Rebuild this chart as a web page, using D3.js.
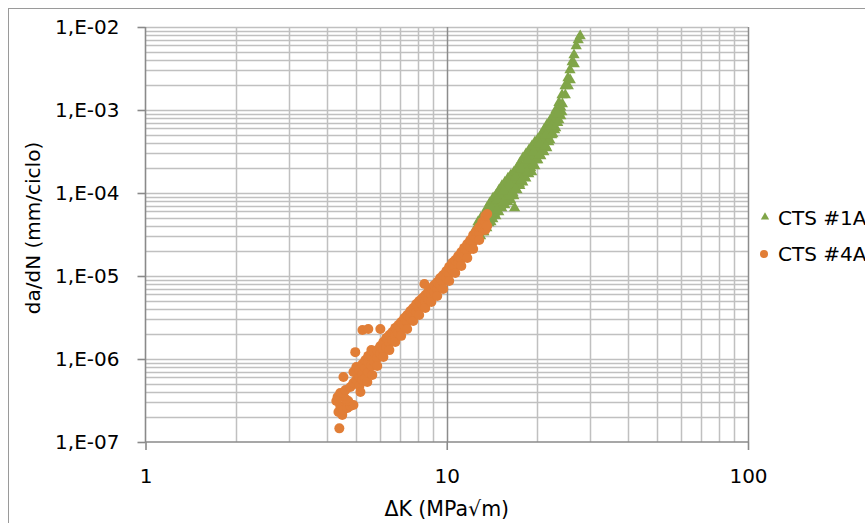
<!DOCTYPE html>
<html><head><meta charset="utf-8">
<script src="https://cdn.jsdelivr.net/npm/d3@7"></script>
<style>html,body{margin:0;padding:0;background:#fff;}svg{display:block;}text{font-family:"DejaVu Sans",sans-serif;fill:#000;}</style>
</head><body>
<svg id="chart" width="865" height="523"></svg>
<script>
// ---- data ----
const seriesNames = ["CTS #1A", "CTS #4A"];
const xTickValues = [1, 10, 100];
const xTickLabels = ["1", "10", "100"];
const yTickValues = [1e-7, 1e-6, 1e-5, 1e-4, 1e-3, 1e-2];
const yTickLabels = ["1,E-07", "1,E-06", "1,E-05", "1,E-04", "1,E-03", "1,E-02"];
const xTitle = "ΔK (MPa√m)";
const yTitle = "da/dN (mm/ciclo)";

// CTS #1A : [ΔK, da/dN]
const cts1A = [
[12.15,3.03e-5],[12.40,3.58e-5],[12.48,2.72e-5],[12.70,4.47e-5],[12.76,3.29e-5],[12.98,5.00e-5],[13.05,3.79e-5],[12.95,3.03e-5],
[13.30,5.58e-5],[13.36,4.24e-5],[13.28,3.39e-5],[13.60,6.60e-5],[13.68,5.00e-5],[13.58,3.79e-5],[13.90,7.58e-5],[13.98,5.74e-5],
[14.02,4.47e-5],[14.25,8.71e-5],[14.31,6.60e-5],[14.22,4.86e-5],[14.58,9.46e-5],[14.64,7.17e-5],[14.55,5.28e-5],[14.92,1.09e-4],
[14.98,8.24e-5],[14.88,5.90e-5],[15.25,1.22e-4],[15.32,9.20e-5],[15.22,6.60e-5],[15.60,1.35e-4],[15.66,1.00e-4],[15.58,7.17e-5],
[15.97,1.51e-4],[16.05,1.09e-4],[15.95,7.80e-5],[16.33,1.65e-4],[16.40,1.22e-4],[16.30,8.24e-5],[16.72,1.79e-4],[16.78,1.35e-4],
[16.70,9.20e-5],[16.80,6.60e-5],[17.11,2.00e-4],[17.18,1.51e-4],[17.10,1.09e-4],[17.50,2.30e-4],[17.56,1.65e-4],[17.48,1.22e-4],
[17.90,2.64e-4],[17.98,1.89e-4],[17.88,1.35e-4],[18.32,2.95e-4],[18.40,2.12e-4],[18.30,1.51e-4],[18.75,3.30e-4],[18.82,2.37e-4],
[18.72,1.70e-4],[19.18,3.69e-4],[19.25,2.64e-4],[19.15,1.79e-4],[19.62,4.12e-4],[19.70,3.03e-4],[19.60,2.12e-4],[20.08,4.47e-4],
[20.15,3.39e-4],[20.05,2.50e-4],[20.55,5.00e-4],[20.62,3.79e-4],[20.52,2.79e-4],[21.02,5.74e-4],[21.10,4.35e-4],[21.00,3.12e-4],
[21.50,6.60e-4],[21.58,4.86e-4],[21.48,3.49e-4],[22.00,7.37e-4],[22.08,5.74e-4],[21.98,4.35e-4],[22.52,8.47e-4],[22.60,6.60e-4],
[22.50,5.14e-4],[23.04,1.00e-3],[23.10,8.01e-4],[23.00,6.07e-4],[23.58,1.22e-3],[23.66,9.46e-4],[23.55,7.58e-4],[24.14,1.52e-3],
[24.20,1.18e-3],[24.10,9.46e-4],[24.70,1.95e-3],[24.75,1.52e-3],[25.26,2.43e-3],[25.32,1.95e-3],[25.65,3.03e-3],[25.70,2.30e-3],
[26.08,3.78e-3],[26.45,4.60e-3],[26.50,3.58e-3],[26.90,5.90e-3],[27.31,6.97e-3],[27.73,7.79e-3],
[13.80,5.74e-5],[13.80,4.35e-5],[14.40,7.58e-5],[14.40,5.74e-5],[15.10,9.46e-5],[15.10,6.98e-5],[15.80,1.15e-4],[15.80,8.47e-5],
[16.60,1.43e-4],[16.60,1.00e-4],[17.40,1.70e-4],[17.40,1.29e-4],[18.10,2.24e-4],[18.10,1.60e-4],[19.00,2.79e-4],[19.00,2.00e-4],
[19.90,3.59e-4],[19.90,2.50e-4],[20.80,4.35e-4],[20.80,3.30e-4],[21.80,5.74e-4],[21.80,4.12e-4],[22.80,7.58e-4],[22.80,5.74e-4],
[23.90,1.08e-3],[23.90,8.47e-4],[13.20,4.35e-5],[13.20,3.39e-5],[12.60,3.12e-5],
[14.10,6.60e-5],[14.10,5.00e-5],[14.70,8.24e-5],[14.70,6.24e-5],[15.45,1.06e-4],[15.45,7.80e-5],[16.20,1.29e-4],[16.20,9.20e-5],
[16.95,1.56e-4],[16.95,1.12e-4],[17.70,1.94e-4],[17.70,1.43e-4],[18.55,2.50e-4],[18.55,1.79e-4],[19.45,3.12e-4],[19.45,2.18e-4],
[20.35,3.90e-4],[20.35,2.87e-4],[21.30,5.00e-4],[21.30,3.69e-4],[22.30,6.42e-4],[22.30,5.00e-4],[23.35,8.95e-4],[23.35,7.00e-4]
];

// CTS #4A : [ΔK, da/dN]
const cts4A = [
[4.40,1.46e-7],[4.34,3.48e-7],[4.37,2.30e-7],[4.43,2.71e-7],[4.50,2.11e-7],[4.54,2.43e-7],[4.68,2.57e-7],[4.79,2.71e-7],
[4.90,2.79e-7],[4.71,3.12e-7],[4.61,3.30e-7],[4.54,3.58e-7],[4.43,3.89e-7],[4.61,4.23e-7],[4.79,4.60e-7],[4.54,6.07e-7],
[4.30,3.12e-7],[4.90,5.14e-7],[4.90,6.97e-7],[5.01,5.58e-7],[5.01,8.01e-7],[5.13,6.07e-7],[5.13,7.37e-7],[5.13,4.73e-7],
[5.25,6.60e-7],[5.25,8.71e-7],[5.25,5.58e-7],[5.37,5.90e-7],[5.37,7.79e-7],[5.37,9.73e-7],[5.49,6.97e-7],[5.49,9.20e-7],
[5.49,1.09e-6],[5.62,8.24e-7],[5.62,1.09e-6],[5.62,1.28e-6],[5.75,9.20e-7],[5.75,1.18e-6],[5.88,1.03e-6],[5.88,1.28e-6],
[5.88,8.24e-7],[6.02,1.15e-6],[6.02,1.43e-6],[6.16,1.28e-6],[6.16,1.60e-6],[6.16,1.06e-6],[6.30,1.39e-6],[6.30,1.79e-6],
[6.45,1.55e-6],[6.45,1.95e-6],[6.45,1.28e-6],[6.60,1.69e-6],[6.60,2.12e-6],[6.75,1.90e-6],[6.75,2.37e-6],[6.75,1.60e-6],
[6.91,2.06e-6],[6.91,2.57e-6],[7.06,2.30e-6],[7.06,2.79e-6],[7.06,1.90e-6],[7.23,2.50e-6],[7.23,3.12e-6],[7.39,2.79e-6],
[7.39,3.39e-6],[7.39,2.30e-6],[7.57,3.12e-6],[7.57,3.78e-6],[7.74,3.39e-6],[7.74,4.12e-6],[7.74,2.87e-6],[7.92,3.68e-6],
[7.92,4.60e-6],[8.10,4.12e-6],[8.10,5.00e-6],[8.10,3.39e-6],[8.30,4.47e-6],[8.30,5.43e-6],[8.49,4.86e-6],[8.49,5.90e-6],
[8.49,4.12e-6],[8.68,5.28e-6],[8.68,6.41e-6],[8.89,5.90e-6],[8.89,7.17e-6],[8.89,4.86e-6],[9.09,6.41e-6],[9.09,7.79e-6],
[9.30,6.97e-6],[9.30,8.47e-6],[9.30,5.74e-6],[9.51,7.79e-6],[9.51,9.46e-6],[9.73,8.47e-6],[9.73,1.03e-5],[9.73,6.97e-6],
[9.97,9.46e-6],[9.97,1.15e-5],[10.19,1.06e-5],[10.19,1.29e-5],[10.19,8.71e-6],[10.43,1.18e-5],[10.43,1.44e-5],[10.67,1.29e-5],
[10.67,1.56e-5],[10.67,1.09e-5],[10.92,1.44e-5],[10.92,1.74e-5],[11.18,1.60e-5],[11.18,1.95e-5],[11.18,1.32e-5],[11.43,1.79e-5],
[11.43,2.18e-5],[11.70,2.00e-5],[11.70,2.43e-5],[11.70,1.65e-5],[11.97,2.23e-5],[11.97,2.72e-5],[12.24,2.57e-5],[12.24,3.12e-5],
[12.24,2.12e-5],[12.53,2.88e-5],[12.53,3.48e-5],[12.82,3.30e-5],[12.82,3.90e-5],[12.82,2.72e-5],[13.12,3.79e-5],[13.12,4.47e-5],
[13.42,4.47e-5],[13.42,5.28e-5],[13.42,3.58e-5],[13.62,5.58e-5],[13.62,4.01e-5],
[5.17,4.00e-7],[5.45,5.28e-7],[5.66,6.42e-7],
[4.97,1.21e-6],[5.25,2.24e-6],[5.49,2.30e-6],[6.02,2.30e-6],[8.43,8.01e-6]
];

const colorGreen = "#80A548";
const colorOrange = "#E17E37";

// ---- chart ----
const svg = d3.select("#chart");
const plot = {left: 145.5, right: 748, top: 27, bottom: 442};

svg.append("rect").attr("x", 8.5).attr("y", 8.5).attr("width", 870).attr("height", 530)
  .attr("fill", "#fff").attr("stroke", "#9a9a9a").attr("stroke-width", 1);

const x = d3.scaleLog().domain([1, 100]).range([plot.left, plot.right]);
const y = d3.scaleLog().domain([1e-7, 1e-2]).range([plot.bottom, plot.top]);

// grid
const gGrid = svg.append("g");
const yGrid = y.ticks().filter(v => Math.abs(v / 1e-7 - 1) > 1e-6);
gGrid.selectAll("line.hy").data(yGrid).join("line")
  .attr("x1", plot.left).attr("x2", plot.right)
  .attr("y1", d => Math.round(y(d)) + 0.5).attr("y2", d => Math.round(y(d)) + 0.5)
  .attr("stroke", "#c0c0c0").attr("stroke-width", 1.5);
const xGrid = x.ticks().filter(v => !xTickValues.includes(v));
gGrid.selectAll("line.vx").data(xGrid).join("line")
  .attr("x1", d => Math.round(x(d)) + 0.5).attr("x2", d => Math.round(x(d)) + 0.5)
  .attr("y1", plot.top).attr("y2", plot.bottom)
  .attr("stroke", "#c0c0c0").attr("stroke-width", 1.5);
gGrid.selectAll("line.vxM").data(xTickValues.slice(1)).join("line")
  .attr("x1", d => Math.round(x(d)) + 0.5).attr("x2", d => Math.round(x(d)) + 0.5)
  .attr("y1", plot.top).attr("y2", plot.bottom)
  .attr("stroke", "#8c8c8c").attr("stroke-width", 1.5);

// axes
const yAxis = d3.axisLeft(y).tickValues(yTickValues).tickSize(8).tickPadding(18)
  .tickFormat((d, i) => yTickLabels[i]);
const gy = svg.append("g").attr("transform", `translate(${plot.left},0)`).call(yAxis);
const xAxis = d3.axisBottom(x).tickValues(xTickValues).tickSize(8).tickPadding(19)
  .tickFormat((d, i) => xTickLabels[i]);
const gx = svg.append("g").attr("transform", `translate(0,${plot.bottom})`).call(xAxis);
[gx, gy].forEach(g => {
  g.select(".domain").attr("stroke", "#8a8a8a").attr("stroke-width", 1.6);
  g.selectAll(".tick line").attr("stroke", "#8a8a8a").attr("stroke-width", 1.6);
  g.selectAll(".tick text").attr("font-family", "DejaVu Sans").attr("font-size", 20).attr("fill", "#000");
});
gx.select(".domain").attr("d", `M${plot.left},0H${plot.right}`);
gy.select(".domain").attr("d", `M0,${plot.bottom}V${plot.top}`);

// series
const tri = d3.symbol().type(d3.symbolTriangle).size(55);
svg.append("g").selectAll("path").data(cts1A).join("path")
  .attr("d", tri)
  .attr("transform", d => `translate(${x(d[0])},${y(d[1])})`)
  .attr("fill", colorGreen);
svg.append("g").selectAll("circle").data(cts4A).join("circle")
  .attr("cx", d => x(d[0])).attr("cy", d => y(d[1])).attr("r", 5)
  .attr("fill", colorOrange);

// titles
svg.append("text").attr("x", (plot.left + plot.right) / 2).attr("y", 516)
  .attr("text-anchor", "middle").attr("font-size", 20.5).text(xTitle);
svg.append("text").attr("transform", "translate(40,228) rotate(-90)")
  .attr("text-anchor", "middle").attr("font-size", 20).text(yTitle);

// legend
const lg = svg.append("g");
lg.append("path").attr("d", d3.symbol().type(d3.symbolTriangle).size(30))
  .attr("transform", "translate(765,217)").attr("fill", colorGreen);
lg.append("circle").attr("cx", 764).attr("cy", 254).attr("r", 4).attr("fill", colorOrange);
lg.append("text").attr("x", 778).attr("y", 218).attr("dy", "0.36em").attr("font-size", 20).text(seriesNames[0]);
lg.append("text").attr("x", 778).attr("y", 254).attr("dy", "0.36em").attr("font-size", 20).text(seriesNames[1]);
</script>
</body></html>
